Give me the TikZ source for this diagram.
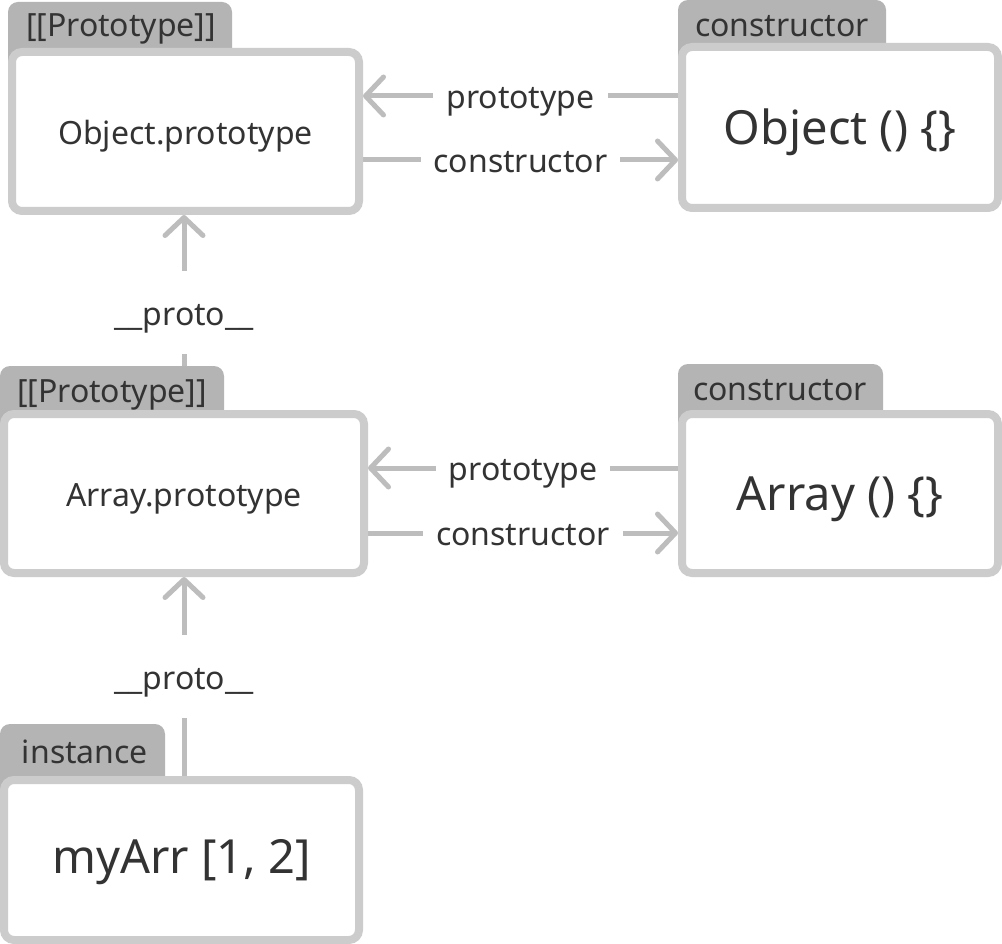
\documentclass[tikz,border=0pt]{standalone}
\usepackage{fontspec}
\setmainfont{Noto Sans}
\usetikzlibrary{arrows.meta}
\definecolor{boxline}{HTML}{CCCCCC}
\definecolor{tabfill}{HTML}{B4B4B4}
\definecolor{connline}{HTML}{BDBDBD}
\definecolor{txt}{HTML}{333333}
\pgfdeclarelayer{bglayer}
\pgfdeclarelayer{connlayer}
\pgfdeclarelayer{tablayer}
\pgfsetlayers{bglayer,connlayer,tablayer,main}
\newcommand\lowerby[2]{\raisebox{-#1}[\height][\depth]{#2}}
\begin{document}
\begin{tikzpicture}[x=1pt,y=-1pt,
  smalltxt/.style={font=\fontsize{32}{38}\selectfont},
  bigtxt/.style={font=\fontsize{47}{56}\selectfont},
  box/.style={draw=boxline, line width=8pt, fill=white, rounded corners=10pt,
    text=txt, inner sep=0pt, outer sep=4pt},
  tabshape/.style={fill=tabfill, rounded corners=10pt},
  tablbl/.style={smalltxt, text=txt, inner sep=0pt, anchor=base},
  conn/.style={draw=connline, line width=5pt, line cap=round,
    -{Straight Barb[length=18pt,width=38pt,round]}},
  lbl/.style={fill=white, text=txt, smalltxt, inner xsep=13pt, inner ysep=4pt,
    text height=28.4pt, text depth=3.2pt},
  vlbl/.style={fill=white, text=txt, smalltxt, inner xsep=4pt, inner ysep=27pt,
    text height=27.2pt, text depth=1.6pt}]
\useasboundingbox (0,0) rectangle (1002,944);
\begin{pgfonlayer}{bglayer}
\fill[white] (0,0) rectangle (1002,944);
\end{pgfonlayer}

% boxes
\node[box, smalltxt, minimum width=347pt, minimum height=159pt] (b1) at (185.5,131.5) {\lowerby{4.5pt}{Object.prototype}};
\node[box, bigtxt, minimum width=316pt, minimum height=161pt] (b2) at (840,127.5) {\lowerby{4.5pt}{Object () \{\}}};
\node[box, smalltxt, minimum width=360pt, minimum height=159pt] (b3) at (184,493.5) {\lowerby{5pt}{Array.prototype}};
\node[box, bigtxt, minimum width=316pt, minimum height=159pt] (b4) at (840,493.5) {\lowerby{6pt}{Array () \{\}}};
\node[box, bigtxt, minimum width=355pt, minimum height=160pt] (b5) at (181.5,860) {\lowerby{2pt}{myArr [1, 2]}};

% tabs
\begin{pgfonlayer}{tablayer}
\fill[tabshape] (8,80) -- (8,2) -- (232,2) -- (232,80) -- cycle;
\fill[tabshape] (678,75) -- (678,0) -- (886,0) -- (886,75) -- cycle;
\fill[tabshape] (0,440) -- (0,366) -- (224,366) -- (224,440) -- cycle;
\fill[tabshape] (678,440) -- (678,364) -- (883,364) -- (883,440) -- cycle;
\fill[tabshape] (0,806) -- (0,724) -- (165,724) -- (165,806) -- cycle;
\node[tablbl] (t1) at (121,37) {[[Prototype]]};
\node[tablbl] (t2) at (782,37) {constructor};
\node[tablbl] (t3) at (112,402) {[[Prototype]]};
\node[tablbl] (t4) at (780,400) {constructor};
\node[tablbl] (t5) at (85,763) {instance};
\end{pgfonlayer}

% connectors
\begin{pgfonlayer}{connlayer}
\draw[conn] (b2.west |- 0,96) -- node[lbl] (l1) {prototype} (b1.east |- 0,96);
\draw[conn] (b1.east |- 0,160) -- node[lbl] (l2) {constructor} (b2.west |- 0,160);
\draw[conn] (b4.west |- 0,468) -- node[lbl] (l3) {prototype} (b3.east |- 0,468);
\draw[conn] (b3.east |- 0,533) -- node[lbl] (l4) {constructor} (b4.west |- 0,533);
\draw[conn] (b3.north) -- node[vlbl] (l5) {\_\_proto\_\_} (b3.north |- b1.south);
\draw[conn] (b3.south |- b5.north) -- node[vlbl] (l6) {\_\_proto\_\_} (b3.south);
\end{pgfonlayer}
\end{tikzpicture}
\end{document}
